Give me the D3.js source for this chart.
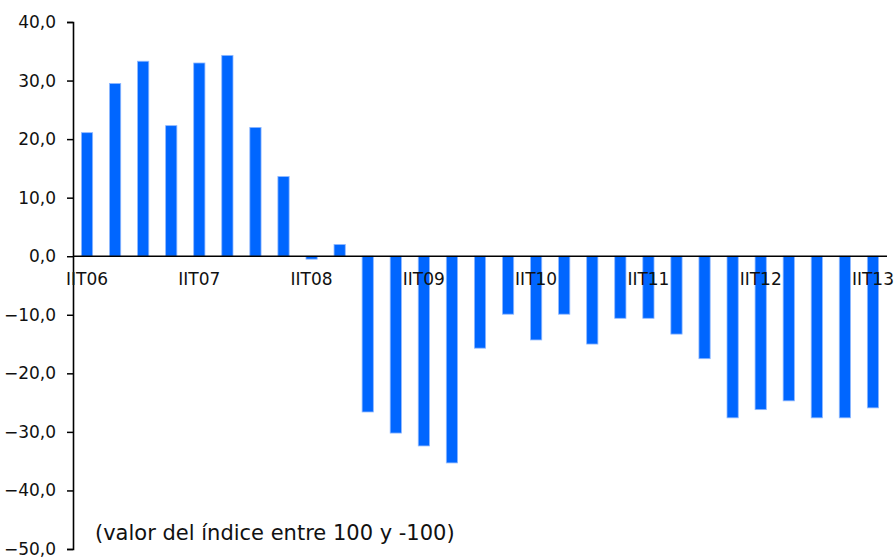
<!DOCTYPE html>
<html lang="es">
  <head>
    <meta charset="utf-8">
    <title>Indicador trimestral</title>
    <script type="text/javascript" src="https://d3js.org/d3.v7.min.js"></script>
    <style type="text/css">
      body { margin: 0; background: #ffffff; }
      svg { display: block; background: #ffffff; }
      .ylab { font-family: Verdana, "DejaVu Sans", sans-serif; font-size: 17px; fill: #111111; }
      .xlab { font-family: Verdana, "DejaVu Sans", sans-serif; font-size: 17px; fill: #111111; }
      .note { font-family: Verdana, "DejaVu Sans", sans-serif; font-size: 21px; fill: #111111; }
    </style>
  </head>
  <body>
    <script type="text/javascript">

    // data
    const quarters = ['IIT06','IIIT06','IVT06','IT07','IIT07','IIIT07','IVT07','IT08','IIT08','IIIT08','IVT08','IT09',
      'IIT09','IIIT09','IVT09','IT10','IIT10','IIIT10','IVT10','IT11','IIT11','IIIT11','IVT11','IT12',
      'IIT12','IIIT12','IVT12','IT13','IIT13'];
    const values = [21.1, 29.5, 33.3, 22.3, 33.0, 34.3, 22.0, 13.6, -0.5, 2.0, -26.6, -30.2,
      -32.4, -35.3, -15.7, -9.9, -14.3, -9.9, -15.0, -10.6, -10.6, -13.3, -17.5, -27.6,
      -26.2, -24.7, -27.6, -27.6, -25.9];
    const yTicks = [40, 30, 20, 10, 0, -10, -20, -30, -40, -50];
    const xTickLabels = ['IIT06','IIT07','IIT08','IIT09','IIT10','IIT11','IIT12','IIT13'];

    // layout
    const width = 895, height = 558;
    const margin = {top: 22, right: 8, bottom: 9, left: 73};

    const svg = d3.select('body').append('svg')
      .attr('width', width)
      .attr('height', height);

    const x = d3.scaleBand()
      .domain(quarters)
      .range([margin.left, width - margin.right])
      .paddingInner(0.6)
      .paddingOuter(0.3);

    const y = d3.scaleLinear()
      .domain([-50, 40])
      .range([height - margin.bottom, margin.top]);

    // bars
    svg.append('g')
      .selectAll('rect')
      .data(values)
      .join('rect')
      .attr('x', (d, i) => x(quarters[i]))
      .attr('width', x.bandwidth())
      .attr('y', d => y(Math.max(0, d)))
      .attr('height', d => Math.abs(y(d) - y(0)))
      .attr('fill', '#0066ff')
      .attr('stroke', '#8fb8ff')
      .attr('stroke-width', 0.8);

    // y axis
    const yAxis = d3.axisLeft(y)
      .tickValues(yTicks)
      .tickSize(6)
      .tickPadding(11)
      .tickFormat(d => d3.format('.1f')(d).replace('.', ','));

    svg.append('g')
      .attr('transform', 'translate(' + margin.left + ',0)')
      .call(yAxis)
      .call(g => g.select('.domain').attr('stroke', '#000').attr('stroke-width', 1.6))
      .call(g => g.selectAll('.tick line').attr('stroke', '#000').attr('stroke-width', 1.5))
      .call(g => g.selectAll('.tick text').attr('class', 'ylab').attr('font-size', null).attr('font-family', null));

    // x axis line at zero
    svg.append('line')
      .attr('x1', margin.left)
      .attr('x2', width - margin.right)
      .attr('y1', y(0))
      .attr('y2', y(0))
      .attr('stroke', '#000')
      .attr('stroke-width', 1.6);

    // x labels, one per year
    svg.append('g')
      .selectAll('text')
      .data(xTickLabels)
      .join('text')
      .attr('class', 'xlab')
      .attr('x', d => x(d) + x.bandwidth() / 2)
      .attr('y', y(0) + 29)
      .attr('text-anchor', 'middle')
      .text(d => d);

    // note
    svg.append('text')
      .attr('class', 'note')
      .attr('x', 95)
      .attr('y', 540)
      .text('(valor del índice entre 100 y -100)');

    </script>
  </body>
</html>
